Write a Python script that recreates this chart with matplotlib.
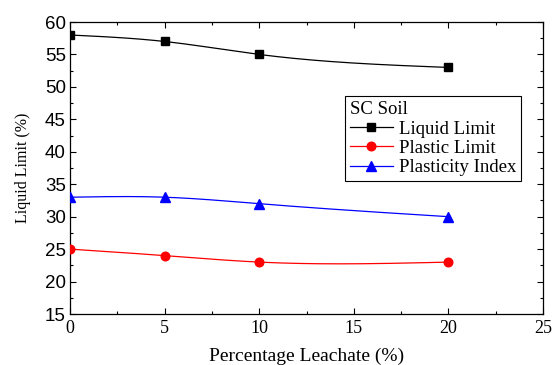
import numpy as np
import matplotlib
matplotlib.use("Agg")
import matplotlib.pyplot as plt
from matplotlib.ticker import MultipleLocator

leachate = [0, 5, 10, 20]
liquid_limit = [58, 57, 55, 53]
plastic_limit = [25, 24, 23, 23]
plasticity_index = [33, 33, 32, 30]
series_names = ["Liquid Limit", "Plastic Limit", "Plasticity Index"]
legend_title = "SC Soil"


def natural_spline(x, y, n=200):
    x = np.asarray(x, float)
    y = np.asarray(y, float)
    k = len(x)
    h = np.diff(x)
    A = np.zeros((k, k))
    r = np.zeros(k)
    A[0, 0] = A[-1, -1] = 1
    for i in range(1, k - 1):
        A[i, i - 1] = h[i - 1]
        A[i, i] = 2 * (h[i - 1] + h[i])
        A[i, i + 1] = h[i]
        r[i] = 6 * ((y[i + 1] - y[i]) / h[i] - (y[i] - y[i - 1]) / h[i - 1])
    M = np.linalg.solve(A, r)
    xs = np.linspace(x[0], x[-1], n)
    ys = np.empty_like(xs)
    for j, xv in enumerate(xs):
        i = min(np.searchsorted(x, xv, side="right") - 1, k - 2)
        t1 = x[i + 1] - xv
        t0 = xv - x[i]
        ys[j] = (M[i] * t1 ** 3 / (6 * h[i]) + M[i + 1] * t0 ** 3 / (6 * h[i])
                 + (y[i] / h[i] - M[i] * h[i] / 6) * t1
                 + (y[i + 1] / h[i] - M[i + 1] * h[i] / 6) * t0)
    return xs, ys


fig = plt.figure(figsize=(5.53, 3.65), dpi=100)
ax = fig.add_axes([0.1266, 0.1397, 0.982 - 0.1266, 0.9397 - 0.1397])

styles = [("black", "s", 5.5), ("red", "o", 6.2), ("blue", "^", 6.8)]
handles = []
for vals, name, (c, m, ms) in zip([liquid_limit, plastic_limit, plasticity_index], series_names, styles):
    xs, ys = natural_spline(leachate, vals)
    ax.plot(xs, ys, color=c, lw=0.9, zorder=2)
    ax.plot(leachate, vals, ls="none", marker=m, color=c, ms=ms, zorder=3)
    h, = ax.plot([], [], color=c, lw=0.9, marker=m, ms=ms, label=name)
    handles.append(h)

ax.set_xlim(0, 25)
ax.set_ylim(15, 60)
ax.xaxis.set_major_locator(MultipleLocator(5))
ax.xaxis.set_minor_locator(MultipleLocator(2.5))
ax.yaxis.set_major_locator(MultipleLocator(5))
ax.yaxis.set_minor_locator(MultipleLocator(2.5))
ax.tick_params(which="both", direction="in", top=True, right=True, width=0.8)
ax.tick_params(which="major", length=4)
ax.tick_params(which="minor", length=2.5)
for sp in ax.spines.values():
    sp.set_linewidth(0.9)

serif = "Liberation Serif"
sans = "Liberation Sans"
for lab in ax.get_xticklabels():
    lab.set_fontfamily(serif)
    lab.set_fontsize(13)
for lab in ax.get_yticklabels():
    lab.set_fontfamily(sans)
    lab.set_fontsize(13.5)
ax.tick_params(axis="x", pad=4)
ax.tick_params(axis="y", pad=3)

ax.set_xlabel("Percentage Leachate (%)", fontfamily=serif, fontsize=14, labelpad=8)
ax.set_ylabel("Liquid Limit (%)", fontfamily=serif, fontsize=11.5, labelpad=10)

leg = ax.legend(handles=handles, title=legend_title, loc="upper left",
                bbox_to_anchor=(0.581, 0.745), frameon=True, fancybox=False,
                edgecolor="black", framealpha=1, borderpad=0.25, labelspacing=0.12,
                handlelength=2.3, handletextpad=0.35, borderaxespad=0,
                prop={"family": serif, "size": 13.5},
                title_fontproperties={"family": serif, "size": 13.5})
leg._legend_box.align = "left"
leg.get_frame().set_linewidth(0.8)

fig.savefig("out.png", dpi=100)
